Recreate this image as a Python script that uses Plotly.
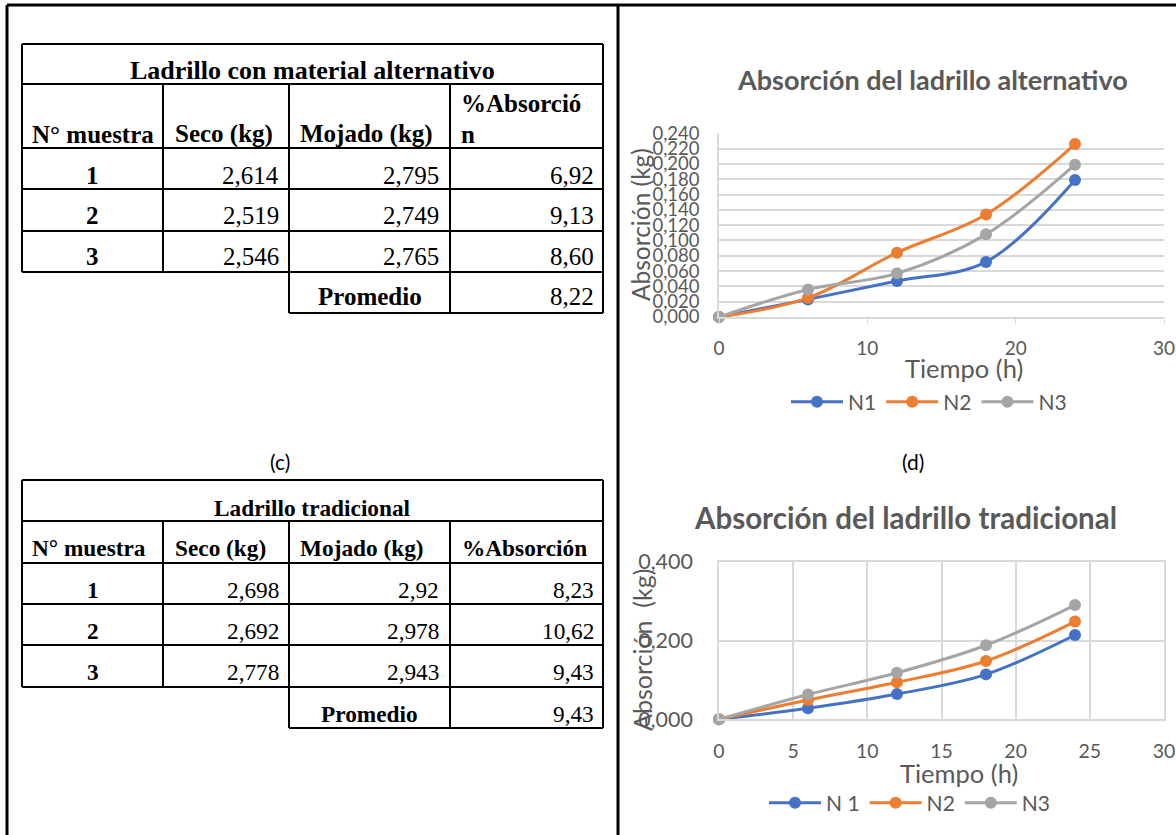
import plotly.graph_objects as go

W, H = 1176, 835

# ---------------- data ----------------
time_h = [0, 6, 12, 18, 24]
alt_n1 = [0.000, 0.023, 0.047, 0.072, 0.179]
alt_n2 = [0.000, 0.025, 0.084, 0.134, 0.226]
alt_n3 = [0.000, 0.036, 0.057, 0.108, 0.199]
trad_n1 = [0.000, 0.028, 0.064, 0.114, 0.214]
trad_n2 = [0.000, 0.049, 0.094, 0.148, 0.248]
trad_n3 = [0.000, 0.063, 0.118, 0.188, 0.290]
alt_names = ["N1", "N2", "N3"]
trad_names = ["N 1", "N2", "N3"]

alt_title = "Ladrillo con material alternativo"
trad_title = "Ladrillo tradicional"
col_headers = ["N° muestra", "Seco (kg)", "Mojado (kg)", "%Absorción"]
samples = ["1", "2", "3"]
alt_seco = ["2,614", "2,519", "2,546"]
alt_mojado = ["2,795", "2,749", "2,765"]
alt_abs = ["6,92", "9,13", "8,60"]
alt_prom = "8,22"
trad_seco = ["2,698", "2,692", "2,778"]
trad_mojado = ["2,92", "2,978", "2,943"]
trad_abs = ["8,23", "10,62", "9,43"]
trad_prom = "9,43"
prom_label = "Promedio"

chart1_title = "Absorción del ladrillo alternativo"
chart2_title = "Absorción del ladrillo tradicional"

# ---------------- helpers ----------------
def px(x):
    return x / W

def py(y):
    return 1 - y / H

BLUE, ORANGE, GRAY = "#4472C4", "#ED7D31", "#A5A5A5"
TXT = "#595959"
GRID = "#D9D9D9"
SANS = "Lato"
SERIF = "Liberation Serif"

fig = go.Figure()

# ---------------- charts ----------------
for ys, nm, col in zip([alt_n1, alt_n2, alt_n3], alt_names, [BLUE, ORANGE, GRAY]):
    fig.add_trace(go.Scatter(x=time_h, y=ys, name=nm, mode="lines+markers", cliponaxis=False,
                             line=dict(color=col, width=3, shape="spline", smoothing=1),
                             marker=dict(color=col, size=12),
                             xaxis="x", yaxis="y", legend="legend"))
for ys, nm, col in zip([trad_n1, trad_n2, trad_n3], trad_names, [BLUE, ORANGE, GRAY]):
    fig.add_trace(go.Scatter(x=time_h, y=ys, name=nm, mode="lines+markers", cliponaxis=False,
                             line=dict(color=col, width=3, shape="spline", smoothing=1),
                             marker=dict(color=col, size=12),
                             xaxis="x2", yaxis="y2", legend="legend2"))

X0, X1 = 719, 1164
ann = []
shapes = []

def text(x, y, s, size, family=SANS, color="black", bold=False, xanchor="center", textangle=0):
    if bold:
        s = "<b>" + s + "</b>"
    ann.append(dict(x=px(x), y=py(y), xref="paper", yref="paper", text=s, showarrow=False,
                    xanchor=xanchor, yanchor="middle", textangle=textangle,
                    font=dict(family=family, size=size, color=color)))

def line(x0, y0, x1, y1, w=2):
    shapes.append(dict(type="line", xref="paper", yref="paper", x0=px(x0), y0=py(y0),
                       x1=px(x1), y1=py(y1), line=dict(color="black", width=w)))

# chart titles and axis titles
text(932, 79, chart1_title, 27, color=TXT, bold=True)
text(905, 517, chart2_title, 29.5, color=TXT, bold=True)
text(640, 225, "Absorción (kg)", 24.5, color=TXT, textangle=-90)
text(642, 650, "Absorción  (kg)", 25, color=TXT, textangle=-90)
text(964, 368, "Tiempo (h)", 25.5, color=TXT)
text(959, 773, "Tiempo (h)", 25.5, color=TXT)
text(280, 462, "(c)", 21)
text(913, 462, "(d)", 21)

# ---------------- tables ----------------
def draw_table(top, rows_y, title_y, hdr_y, title, seco, moj, ab, prom, fs_t, fs_h, fs_n, split_hdr):
    L, C1, C2, C3, R = 22, 163, 289, 450, 603
    if split_hdr:
        ys = [top, top + 40, top + 104, top + 145, top + 187, top + 228]
    else:
        ys = [top, top + 41, top + 83, top + 124, top + 165, top + 207]
    pb = ys[-1] + 41
    for y in ys:
        line(L, y, R, y)
    line(C2, pb, R, pb)
    line(L, ys[0], L, ys[-1])
    line(R, ys[0], R, pb)
    line(C1, ys[1], C1, ys[-1])
    line(C2, ys[1], C2, pb)
    line(C3, ys[1], C3, pb)
    text((L + R) / 2, title_y, title, fs_t, family=SERIF, bold=True)
    text(30, hdr_y, col_headers[0], fs_h, family=SERIF, bold=True, xanchor="left")
    text(173, hdr_y, col_headers[1], fs_h, family=SERIF, bold=True, xanchor="left")
    text(298, hdr_y, col_headers[2], fs_h, family=SERIF, bold=True, xanchor="left")
    if split_hdr:
        text(459, hdr_y - 30, col_headers[3][:-1], fs_h, family=SERIF, bold=True, xanchor="left")
        text(459, hdr_y, col_headers[3][-1], fs_h, family=SERIF, bold=True, xanchor="left")
    else:
        text(460, hdr_y, col_headers[3], fs_h, family=SERIF, bold=True, xanchor="left")
    for i in range(3):
        text((L + C1) / 2, rows_y[i], samples[i], fs_n, family=SERIF, bold=True)
        text(281, rows_y[i], seco[i], fs_n, family=SERIF, xanchor="right")
        text(441, rows_y[i], moj[i], fs_n, family=SERIF, xanchor="right")
        text(596, rows_y[i], ab[i], fs_n, family=SERIF, xanchor="right")
    text((C2 + C3) / 2, rows_y[3], prom_label, fs_h, family=SERIF, bold=True)
    text(596, rows_y[3], prom, fs_n, family=SERIF, xanchor="right")

draw_table(44, [175, 216, 256, 296], 70, 134, alt_title, alt_seco, alt_mojado, alt_abs, alt_prom,
           26, 25, 25, True)
draw_table(480, [590, 631, 672, 714], 508, 548, trad_title, trad_seco, trad_mojado, trad_abs, trad_prom,
           23.3, 23.3, 23.3, False)

# outer frame
line(7, 5, W, 5, 3)
line(7, 5, 7, H, 3)
line(618, 5, 618, H, 3)

axfont = dict(family=SANS, color=TXT)
fig.update_layout(
    width=W, height=H, margin=dict(l=0, r=0, t=0, b=0, pad=0, autoexpand=False),
    paper_bgcolor="white", plot_bgcolor="white",
    separators=",.",
    showlegend=True,
    xaxis=dict(domain=[px(X0), px(X1)], anchor="y", range=[0, 30], dtick=10, showgrid=False,
               showline=True, linecolor=GRID, linewidth=1.5, ticks="outside", ticklen=5, tickcolor=GRID,
               tickfont=dict(size=19, **axfont), zeroline=False, ticklabelstandoff=8, automargin=False),
    yaxis=dict(domain=[py(317), py(133.3)], anchor="x", range=[0, 0.24], dtick=0.02, tickformat=".3f",
               showgrid=True, gridcolor=GRID, gridwidth=1.5, showline=True, linecolor=GRID, linewidth=1.5,
               zeroline=False, tickfont=dict(size=18.5, **axfont), ticklabelstandoff=14, automargin=False),
    xaxis2=dict(domain=[px(X0), px(X1)], anchor="y2", range=[0, 30], dtick=5, showgrid=True,
                gridcolor=GRID, gridwidth=1.5, showline=True, linecolor=GRID, linewidth=1.5, mirror=True,
                zeroline=False, tickfont=dict(size=19.5, **axfont), ticklabelstandoff=14, automargin=False),
    yaxis2=dict(domain=[py(719.3), py(561.7)], anchor="x2", range=[0, 0.4], dtick=0.2, tickformat=".3f",
                showgrid=True, gridcolor=GRID, gridwidth=1.5, zeroline=False, showline=True,
                linecolor=GRID, linewidth=1.5, mirror=True,
                tickfont=dict(size=21.5, **axfont), ticklabelstandoff=20, automargin=False),
    legend=dict(orientation="h", x=px(929), y=py(402), xanchor="center", yanchor="middle",
                font=dict(family=SANS, size=21, color=TXT), itemwidth=52, bgcolor="rgba(0,0,0,0)"),
    legend2=dict(orientation="h", x=px(910), y=py(803), xanchor="center", yanchor="middle",
                 font=dict(family=SANS, size=21, color=TXT), itemwidth=52, bgcolor="rgba(0,0,0,0)"),
    annotations=ann,
    shapes=shapes,
)

fig.write_html("out.html", config={"displayModeBar": False},
               post_script="document.body.style.margin='0';document.body.style.overflow='hidden';")
